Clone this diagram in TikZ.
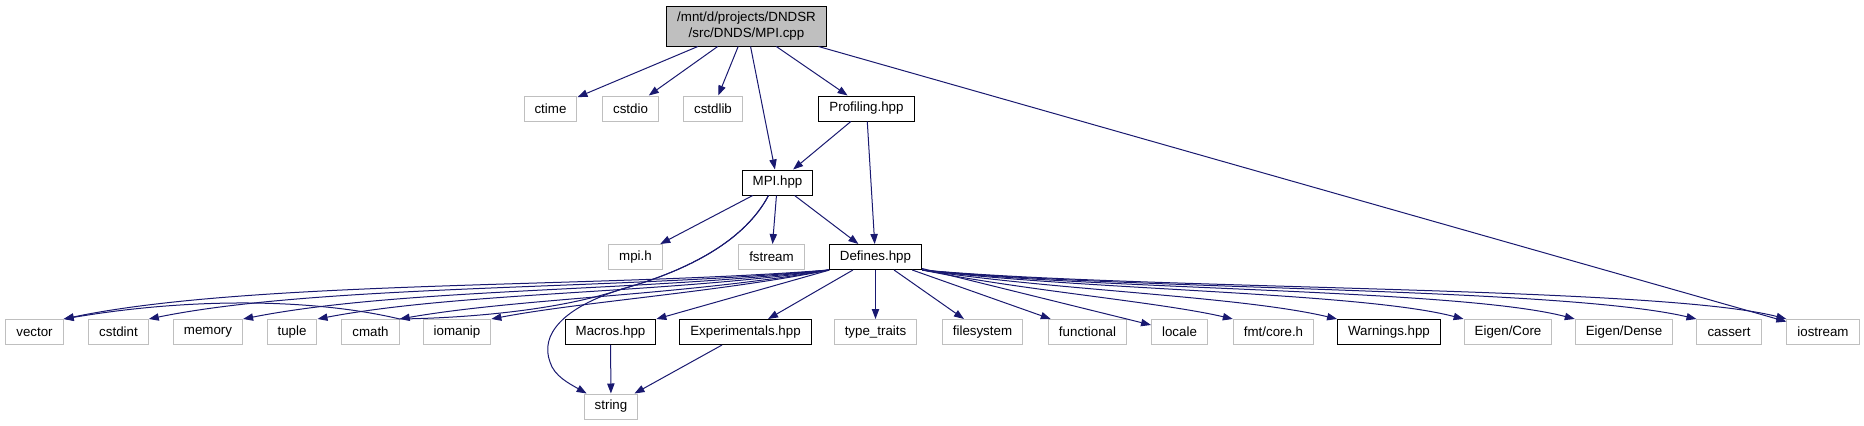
\documentclass[tikz,border=0pt]{standalone}
\usepackage{fontspec}
\setmainfont{Liberation Sans}
\usetikzlibrary{arrows.meta,calc}

\begin{document}
\begin{tikzpicture}[x=0.75pt, y=-0.75pt, >={Triangle[length=7.5pt, width=5.5pt]}]
  \tikzset{
    sysbox/.style={rectangle, draw={rgb,255:red,191;green,191;blue,191}, fill=white,
      minimum height=18.75pt, inner xsep=7.9pt, inner ysep=0pt, line width=0.75pt,
      font=\fontsize{10}{12}\selectfont},
    projbox/.style={sysbox, draw=black},
    rootbox/.style={projbox, fill={rgb,255:red,191;green,191;blue,191},
      minimum height=30pt, align=center},
    inc/.style={->, line width=0.75pt, draw={rgb,255:red,25;green,25;blue,112}}
  }
  \useasboundingbox (0,0) rectangle (1864,425);

  \node[rootbox] (root) at (746.5,26) {/mnt/d/projects/DNDSR\\/src/DNDS/MPI.cpp};
  \node[sysbox] (ctime) at (550.5,108.5) {ctime};
  \node[sysbox] (cstdio) at (630.5,108.5) {cstdio};
  \node[sysbox] (cstdlib) at (713,108.5) {cstdlib};
  \node[projbox] (prof) at (866.5,108.5) {Profiling.hpp};
  \node[projbox] (mpi) at (777.5,182.5) {MPI.hpp};
  \node[sysbox] (mpih) at (635.5,257) {mpi.h};
  \node[sysbox] (fstream) at (771.5,257) {fstream};
  \node[projbox] (defs) at (875.5,257) {Defines.hpp};

  \node[sysbox] (vector) at (34.5,332) {vector};
  \node[sysbox] (cstdint) at (118.5,332) {cstdint};
  \node[sysbox] (memory) at (208,332) {memory};
  \node[sysbox] (tuple) at (292,332) {tuple};
  \node[sysbox] (cmath) at (370.5,332) {cmath};
  \node[sysbox] (iomanip) at (457,332) {iomanip};
  \node[projbox] (macros) at (610.5,332) {Macros.hpp};
  \node[projbox] (expt) at (745.5,332) {Experimentals.hpp};
  \node[sysbox] (traits) at (875.5,332) {type\_traits};
  \node[sysbox] (filesys) at (982.5,332) {filesystem};
  \node[sysbox] (functional) at (1087.5,332) {functional};
  \node[sysbox] (locale) at (1179.5,332) {locale};
  \node[sysbox] (fmtcore) at (1273.5,332) {fmt/core.h};
  \node[projbox] (warn) at (1389,332) {Warnings.hpp};
  \node[sysbox] (eigcore) at (1508,332) {Eigen/Core};
  \node[sysbox] (eigdense) at (1624,332) {Eigen/Dense};
  \node[sysbox] (cassert) at (1729,332) {cassert};
  \node[sysbox] (iostream) at (1823,332) {iostream};
  \node[sysbox] (string) at (611,406.5) {string};

  % MPI.cpp
  \draw[inc] (root) -- (ctime);
  \draw[inc] (root) -- (cstdio);
  \draw[inc] (root) -- (cstdlib);
  \draw[inc] (root) -- (mpi);
  \draw[inc] (root) -- (prof);
  \draw[inc] (root) -- (iostream);

  % Profiling.hpp, MPI.hpp
  \draw[inc] (prof) -- (mpi);
  \draw[inc] (prof) -- (defs);
  \draw[inc] (mpi) -- (mpih);
  \draw[inc] (mpi) -- (fstream);
  \draw[inc] (mpi) -- (defs);
  \coordinate (split) at (622,289);
  \draw[inc] ($(mpi.south)+(-9,0)$) .. controls (745,240) and (690,270) .. (split)
    .. controls (562,308) and (540,335) .. (550,362)
    .. controls (554,376) and (570,384) .. ($(string.north west)+(3,0)$);
  \draw[inc] ($(mpi.south)+(-9,0)$) .. controls (745,240) and (690,270) .. (split)
    .. controls (560,310) and (470,318) .. (cmath.north east)
    .. controls (320,300) and (200,296) .. (vector.north east);

  % Defines.hpp, left side
  \draw[inc] (defs.south west) .. controls (600,288) and (250,280) .. (vector.north east);
  \draw[inc] (defs.south west) .. controls (620,290) and (320,284) .. (cstdint.north east);
  \draw[inc] (defs.south west) .. controls (640,292) and (400,288) .. (memory.north east);
  \draw[inc] (defs.south west) .. controls (660,294) and (460,292) .. (tuple.north east);
  \draw[inc] (defs.south west) .. controls (680,296) and (520,298) .. (cmath.north east);
  \draw[inc] (defs.south west) .. controls (720,292) and (580,302) .. (iomanip.north east);
  \draw[inc] (defs) -- (macros);
  \draw[inc] (defs) -- (expt);

  % Defines.hpp, right side
  \draw[inc] (defs) -- (traits);
  \draw[inc] (defs) -- (filesys);
  \draw[inc] (defs) -- (functional);
  \draw[inc] (defs) -- (locale);
  \draw[inc] (defs.south east) .. controls (1020,290) and (1160,302) .. (fmtcore.north west);
  \draw[inc] (defs.south east) .. controls (1050,290) and (1240,296) .. (warn.north west);
  \draw[inc] (defs.south east) .. controls (1080,290) and (1360,292) .. (eigcore.north west);
  \draw[inc] (defs.south east) .. controls (1100,290) and (1460,289) .. (eigdense.north west);
  \draw[inc] (defs.south east) .. controls (1120,290) and (1560,287) .. (cassert.north west);
  \draw[inc] (defs.south east) .. controls (1140,290) and (1660,286) .. (iostream.north west);

  % string
  \draw[inc] (macros) -- (string);
  \draw[inc] (expt) -- (string);
\end{tikzpicture}
\end{document}
